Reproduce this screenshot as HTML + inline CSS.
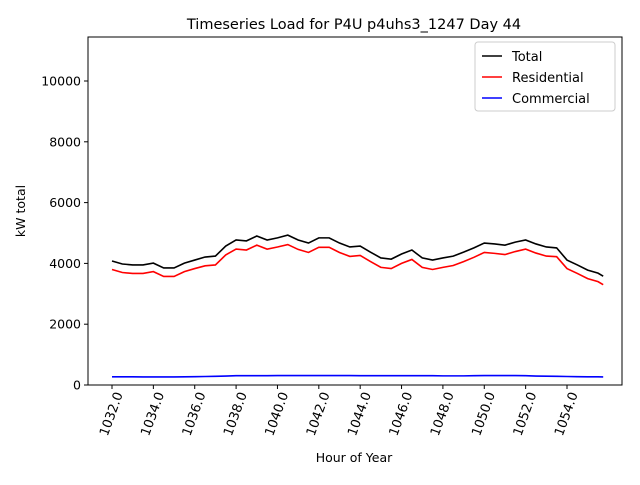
<!DOCTYPE html>
<html><head><meta charset="utf-8"><style>
body{margin:0;background:#fff}
svg{font-family:"DejaVu Sans","Liberation Sans",sans-serif}
</style></head><body>
<svg id="chart" width="640" height="480">
<rect x="0" y="0" width="640" height="480" fill="#fff"/>
<text x="354" y="29" text-anchor="middle" font-size="14.5">Timeseries Load for P4U p4uhs3_1247  Day 44</text>
<g id="plot"></g>
<rect x="88" y="37" width="534" height="348" fill="none" stroke="#000" stroke-width="1"/>
<text x="354" y="462" text-anchor="middle" font-size="12.5">Hour of Year</text>
<text x="25" y="211" text-anchor="middle" font-size="12.5" transform="rotate(-90 25 211)">kW total</text>
<g>
<rect x="475" y="42" width="140" height="69" fill="#fff" stroke="#ccc" rx="3"/>
<line x1="482" y1="56" x2="502" y2="56" stroke="#000" stroke-width="1.6"/>
<text x="512" y="61" font-size="13">Total</text>
<line x1="482" y1="77" x2="502" y2="77" stroke="#f00" stroke-width="1.6"/>
<text x="512" y="82" font-size="13">Residential</text>
<line x1="482" y1="98" x2="502" y2="98" stroke="#00f" stroke-width="1.6"/>
<text x="512" y="103" font-size="13">Commercial</text>
</g>
</svg>
<script>
const hours=[1032,1032.5,1033,1033.5,1034,1034.5,1035,1035.5,1036,1036.5,1037,1037.5,1038,1038.5,1039,1039.5,1040,1040.5,1041,1041.5,1042,1042.5,1043,1043.5,1044,1044.5,1045,1045.5,1046,1046.5,1047,1047.5,1048,1048.5,1049,1049.5,1050,1050.5,1051,1051.5,1052,1052.5,1053,1053.5,1054,1054.5,1055,1055.5,1055.75];
const total=[4080,3980,3950,3950,4010,3850,3850,4010,4110,4210,4240,4570,4770,4740,4900,4770,4840,4930,4770,4670,4840,4840,4670,4540,4570,4370,4180,4140,4310,4440,4180,4110,4180,4240,4370,4510,4670,4640,4600,4700,4770,4640,4540,4510,4110,3950,3780,3680,3580];
const residential=[3800,3700,3670,3670,3730,3570,3570,3730,3830,3920,3950,4280,4470,4440,4600,4470,4540,4620,4460,4360,4530,4530,4360,4230,4260,4060,3870,3830,4000,4130,3870,3800,3870,3930,4060,4200,4360,4330,4290,4390,4470,4340,4240,4220,3830,3670,3500,3400,3300];
const commercial=[270,270,270,265,265,265,265,270,275,280,285,295,305,305,305,305,310,310,310,310,310,310,310,310,305,305,305,305,305,305,305,305,300,300,300,305,310,310,310,310,305,295,290,285,280,275,270,270,265];
const yTicks=[0,2000,4000,6000,8000,10000];
const xTicks=[1032,1034,1036,1038,1040,1042,1044,1046,1048,1050,1052,1054];
const NS="http://www.w3.org/2000/svg";
const g=document.getElementById('plot');
function xs(h){return 112+(h-1032)*(455/22);}
function ys(v){return 385-v*0.0304;}
function mk(t,a){const e=document.createElementNS(NS,t);for(const k in a)e.setAttribute(k,a[k]);g.appendChild(e);return e;}
yTicks.forEach(v=>{
  const l=mk('line',{x1:84,x2:88,y1:ys(v),y2:ys(v),stroke:'#000'});
  
  
  const t=mk('text',{x:81,y:ys(v)+4.5,'text-anchor':'end','font-size':12.5});
  t.textContent=v;
  
  
});
xTicks.forEach(h=>{
  const x=xs(h);
  const l=mk('line',{x1:x,x2:x,y1:385,y2:389,stroke:'#000'});
  
  
  const ax=x+11, ay=394;
  const t=mk('text',{x:ax,y:ay,'text-anchor':'end','font-size':13,transform:`rotate(-70 ${ax} ${ay})`});
  t.textContent=h.toFixed(1);
  
  
});
function series(vals,color,name){
  const p=mk('polyline',{points:vals.map((v,i)=>xs(hours[i])+','+ys(v)).join(' '),fill:'none',stroke:color,'stroke-width':1.6});
  
  
}
series(commercial,'#00f','commercial-line');
series(residential,'#f00','residential-line');
series(total,'#000','total-line');
</script>
</body></html>
